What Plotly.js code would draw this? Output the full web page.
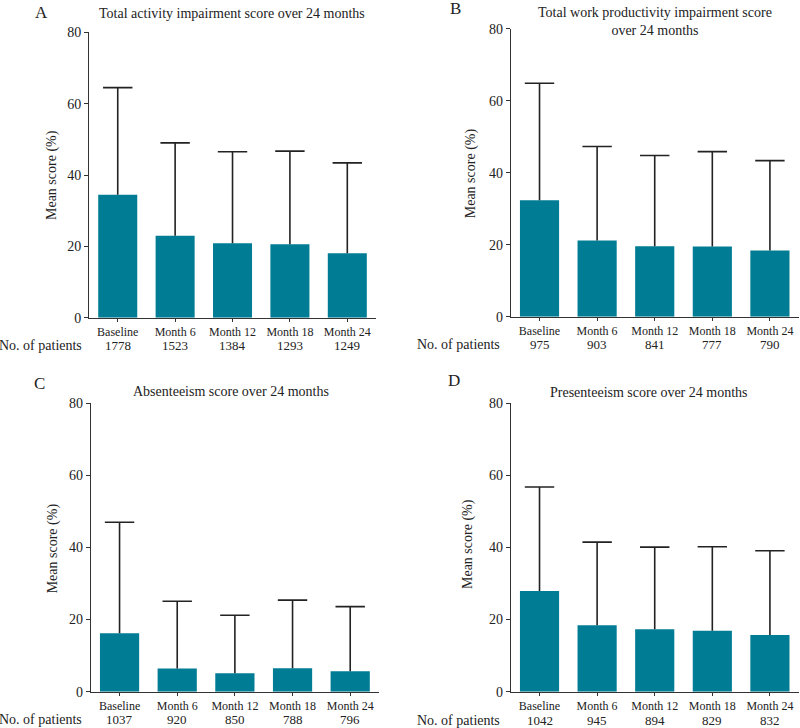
<!DOCTYPE html>
<html>
<head>
<meta charset="utf-8">
<script src="https://cdn.plot.ly/plotly-3.0.1.min.js"></script>
<style>
  html, body { margin: 0; padding: 0; background: #fff; }
  #chart { width: 800px; height: 728px; }
</style>
</head>
<body>
<div id="chart"></div>
<script>
// Visit categories shared by all four panels
const visits = ['Baseline', 'Month 6', 'Month 12', 'Month 18', 'Month 24'];

// A: total activity impairment
const patientsA = [1778, 1523, 1384, 1293, 1249];
const meanA = [34.5, 23.0, 20.9, 20.6, 18.1];
const sdA = [30.0, 26.0, 25.6, 26.1, 25.3];

// B: total work productivity impairment
const patientsB = [975, 903, 841, 777, 790];
const meanB = [32.4, 21.2, 19.6, 19.5, 18.4];
const sdB = [32.5, 26.1, 25.2, 26.4, 25.0];

// C: absenteeism
const patientsC = [1037, 920, 850, 788, 796];
const meanC = [16.2, 6.4, 5.1, 6.5, 5.7];
const sdC = [30.8, 18.7, 16.1, 18.9, 17.9];

// D: presenteeism
const patientsD = [1042, 945, 894, 829, 832];
const meanD = [27.9, 18.4, 17.3, 16.9, 15.7];
const sdD = [28.9, 23.1, 22.8, 23.3, 23.4];

const yTicks = [0, 20, 40, 60, 80];

const FONT = '"Liberation Serif", "DejaVu Serif", serif';
const BAR_COLOR = '#007d94';
const INK = '#222222';

// bar trace with upward-only SD whiskers (no caps, caps drawn separately)
function barTrace(means, sds, n) {
    return {
        type: 'bar',
        x: visits,
        y: means,
        width: 0.68,
        marker: { color: BAR_COLOR, line: { width: 0 } },
        error_y: {
            type: 'data',
            symmetric: false,
            array: sds,
            arrayminus: means.map(() => 0),
            color: INK,
            thickness: 1.6,
            width: 0
        },
        xaxis: 'x' + n,
        yaxis: 'y' + n,
        showlegend: false,
        hoverinfo: 'y'
    };
}

// top caps of the whiskers
function capTrace(means, sds, n) {
    return {
        type: 'scatter',
        mode: 'markers',
        x: visits,
        y: means.map((m, i) => m + sds[i]),
        marker: { symbol: 'line-ew', size: 21, line: { color: INK, width: 1.6 } },
        xaxis: 'x' + n,
        yaxis: 'y' + n,
        showlegend: false,
        hoverinfo: 'skip'
    };
}

function xAxis(domain, n) {
    return {
        domain: domain,
        anchor: 'y' + n,
        type: 'category',
        range: [-0.5, 4.5],
        tickvals: visits,
        ticks: 'outside',
        ticklen: 3,
        tickcolor: '#333',
        showline: true,
        linecolor: '#333',
        linewidth: 1,
        showgrid: false,
        zeroline: false,
        tickfont: { family: FONT, size: 12, color: INK },
        fixedrange: true
    };
}

function yAxis(domain, n) {
    return {
        domain: domain,
        anchor: 'x' + n,
        range: [0, 80],
        tickvals: yTicks,
        ticks: 'outside',
        ticklen: 4,
        tickcolor: '#333',
        showline: true,
        linecolor: '#333',
        linewidth: 1,
        showgrid: false,
        zeroline: false,
        tickfont: { family: FONT, size: 14, color: INK },
        fixedrange: true
    };
}

function textNote(text, x, y, size, xanchor, extra) {
    return Object.assign({
        text: text,
        xref: 'paper', yref: 'paper',
        x: x, y: y,
        xanchor: xanchor, yanchor: 'middle',
        showarrow: false,
        font: { family: FONT, size: size, color: INK }
    }, extra || {});
}

// patient counts under each category, second label row
function countNotes(patients, n, yPix) {
    return patients.map((p, i) => ({
        text: String(p),
        xref: 'x' + n, yref: 'paper',
        x: visits[i], y: 1 - yPix / 728,
        xanchor: 'center', yanchor: 'middle',
        showarrow: false,
        font: { family: FONT, size: 13, color: INK }
    }));
}

const data = [
    barTrace(meanA, sdA, ''), capTrace(meanA, sdA, ''),
    barTrace(meanB, sdB, 2), capTrace(meanB, sdB, 2),
    barTrace(meanC, sdC, 3), capTrace(meanC, sdC, 3),
    barTrace(meanD, sdD, 4), capTrace(meanD, sdD, 4)
];
data[0].xaxis = 'x'; data[0].yaxis = 'y';
data[1].xaxis = 'x'; data[1].yaxis = 'y';

const rightX = [0.6384, 0.9984];

const layout = {
    width: 800,
    height: 728,
    margin: { l: 0, r: 0, t: 0, b: 0 },
    paper_bgcolor: '#ffffff',
    plot_bgcolor: '#ffffff',
    font: { family: FONT, color: INK },
    xaxis: xAxis([0.1113, 0.47], ''),
    yaxis: yAxis([0.5636, 0.9556], ''),
    xaxis2: xAxis(rightX, 2),
    yaxis2: yAxis([0.5650, 0.9602], 2),
    xaxis3: xAxis([0.1134, 0.4738], 3),
    yaxis3: yAxis([0.0499, 0.4460], 3),
    xaxis4: xAxis(rightX, 4),
    yaxis4: yAxis([0.0499, 0.4460], 4),
    annotations: [
        // panel letters
        textNote('A', 0.041, 0.9835, 17, 'left'),
        textNote('B', 0.5596, 0.989, 17, 'left'),
        textNote('C', 0.0404, 0.4735, 17, 'left'),
        textNote('D', 0.557, 0.477, 17, 'left'),
        // panel titles
        textNote('Total activity impairment score over 24 months', 0.2906, 0.982, 14, 'center'),
        textNote('Total work productivity impairment score<br>over 24 months', 0.8188, 0.971, 14, 'center'),
        textNote('Absenteeism score over 24 months', 0.289, 0.462, 14, 'center'),
        textNote('Presenteeism score over 24 months', 0.811, 0.4615, 14, 'center'),
        // y axis titles
        textNote('Mean score (%)', 52 / 800, 0.7596, 14, 'center', { textangle: -90 }),
        textNote('Mean score (%)', 471 / 800, 0.762, 14, 'center', { textangle: -90 }),
        textNote('Mean score (%)', 53 / 800, 0.2468, 14, 'center', { textangle: -90 }),
        textNote('Mean score (%)', 468 / 800, 0.2527, 14, 'center', { textangle: -90 }),
        // patient count row labels
        textNote('No. of patients', 84 / 800, 1 - 345 / 728, 14, 'right'),
        textNote('No. of patients', 502 / 800, 1 - 344 / 728, 14, 'right'),
        textNote('No. of patients', 84 / 800, 1 - 719 / 728, 14, 'right'),
        textNote('No. of patients', 502 / 800, 1 - 720 / 728, 14, 'right')
    ]
        .concat(countNotes(patientsA, '', 345))
        .concat(countNotes(patientsB, 2, 344))
        .concat(countNotes(patientsC, 3, 719))
        .concat(countNotes(patientsD, 4, 720))
};

Plotly.newPlot('chart', data, layout, { staticPlot: true, displayModeBar: false });
</script>
</body>
</html>
